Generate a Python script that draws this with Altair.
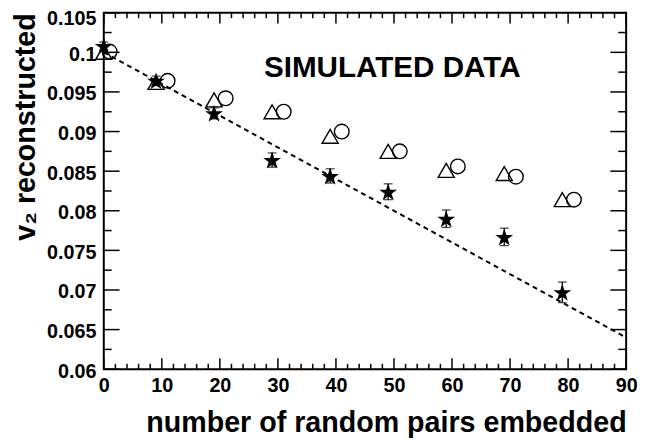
import altair as alt
import pandas as pd

# ---- data ----
star_x = [0, 9, 19, 29, 39, 49, 59, 69, 79]
star_y = [0.1008, 0.0964, 0.0923, 0.0864, 0.0844, 0.0824, 0.0790, 0.0767, 0.0697]
star_err = [0.0005, 0.0006, 0.0007, 0.0009, 0.0009, 0.0010, 0.0011, 0.0011, 0.0013]

tri_x = [0, 9, 19, 29, 39, 49, 59, 69, 79]
tri_y = [0.1000, 0.0962, 0.0940, 0.0925, 0.0894, 0.0875, 0.0851, 0.0847, 0.0814]

circ_x = [1, 11, 21, 31, 41, 51, 61, 71, 81]
circ_y = [0.1001, 0.0964, 0.0942, 0.0925, 0.0900, 0.0875, 0.0856, 0.0843, 0.0814]

line_x = [0, 90]
line_y = [0.100, 0.064]

label_x = [27.6]
label_y = [0.0969]
label_text = ["SIMULATED DATA"]

x_labels = [0, 10, 20, 30, 40, 50, 60, 70, 80, 90]
x_minor = [v for v in range(0, 91, 2) if v % 10 != 0]
y_labels = [round(0.06 + 0.005 * i, 4) for i in range(10)]
y_minor = [round(0.0625 + 0.005 * i, 5) for i in range(9)]

x_title = "number of random pairs embedded"
y_title = "v\u2082 reconstructed"

# ---- layout ----
W, H = 529, 361
FONT = "Liberation Sans"
xs = alt.Scale(domain=[0, 90], nice=False, zero=False)
ys = alt.Scale(domain=[0.06, 0.105], nice=False, zero=False)

STAR = ("M0,-0.905L0.225,-0.214L0.951,-0.214L0.363,0.213L0.588,0.904"
        "L0,0.477L-0.588,0.904L-0.363,0.213L-0.951,-0.214L-0.225,-0.214Z")

df_star = pd.DataFrame({"x": star_x, "y": star_y,
                        "lo": [a - b for a, b in zip(star_y, star_err)],
                        "hi": [a + b for a, b in zip(star_y, star_err)]})
df_tri = pd.DataFrame({"x": tri_x, "y": tri_y})
df_circ = pd.DataFrame({"x": circ_x, "y": circ_y})
df_line = pd.DataFrame({"x": line_x, "y": line_y})
df_lab = pd.DataFrame({"x": label_x, "y": label_y, "t": label_text})

x_axis = alt.Axis(values=x_labels, ticks=False, domain=False, grid=False,
                  labelFont=FONT, labelFontWeight="bold", labelFontSize=20,
                  labelColor="black", labelPadding=7, labelFlush=False,
                  title=x_title, titleFont=FONT, titleFontSize=29,
                  titleFontWeight="bold", titleColor="black",
                  titleAlign="right", titleX=W, titleY=63,
                  titleBaseline="alphabetic")
y_axis = alt.Axis(values=y_labels, ticks=False, domain=False, grid=False,
                  format=".3~f",
                  labelFont=FONT, labelFontWeight="bold", labelFontSize=20,
                  labelColor="black", labelPadding=8, labelFlush=False,
                  labelOffset={"condition": {"test": "datum.value > 0.104",
                                             "value": 5.5},
                               "value": 2},
                  title=y_title, titleFont=FONT, titleFontSize=29,
                  titleFontWeight="bold", titleColor="black",
                  titleAngle=270, titleAlign="right", titleX=-70, titleY=0,
                  titleBaseline="alphabetic")


def X(field):
    return alt.X(field, scale=xs, axis=x_axis)


def Y(field):
    return alt.Y(field, scale=ys, axis=y_axis)


line = alt.Chart(df_line).mark_line(color="black", strokeWidth=2,
                                     strokeDash=[5, 4]).encode(
    x=X("x:Q"), y=Y("y:Q"))

err = alt.Chart(df_star).mark_rule(color="black", strokeWidth=1.3).encode(
    x=X("x:Q"), y=Y("lo:Q"), y2="hi:Q")

cap_lo = alt.Chart(df_star).mark_tick(color="black", thickness=1.3, size=9,
                                       orient="horizontal").encode(
    x=X("x:Q"), y=Y("lo:Q"))
cap_hi = alt.Chart(df_star).mark_tick(color="black", thickness=1.3, size=9,
                                       orient="horizontal").encode(
    x=X("x:Q"), y=Y("hi:Q"))

tri = alt.Chart(df_tri).mark_point(shape="triangle-up", filled=False,
                                    color="black", size=265,
                                    strokeWidth=1.4, opacity=1).encode(
    x=X("x:Q"), y=Y("y:Q"))

circ = alt.Chart(df_circ).mark_point(shape="circle", filled=False,
                                      color="black", size=220,
                                      strokeWidth=1.4, opacity=1).encode(
    x=X("x:Q"), y=Y("y:Q"))

star = alt.Chart(df_star).mark_point(shape=STAR, filled=True, color="black",
                                      size=360, opacity=1).encode(
    x=X("x:Q"), y=Y("y:Q"))

text = alt.Chart(df_lab).mark_text(font=FONT, fontSize=30, fontWeight="bold",
                                    align="left", baseline="alphabetic",
                                    color="black").encode(
    x=X("x:Q"), y=Y("y:Q"), text="t:N")


def xticks(vals, length):
    d = pd.DataFrame({"x": vals})
    bot = alt.Chart(d).mark_rule(color="black", strokeWidth=1.5).encode(
        x=X("x:Q"), y=alt.value(H), y2=alt.value(H - length))
    top = alt.Chart(d).mark_rule(color="black", strokeWidth=1.5).encode(
        x=X("x:Q"), y=alt.value(0), y2=alt.value(length))
    return [bot, top]


def yticks(vals, length):
    d = pd.DataFrame({"y": vals})
    left = alt.Chart(d).mark_rule(color="black", strokeWidth=1.5).encode(
        y=Y("y:Q"), x=alt.value(0), x2=alt.value(length))
    right = alt.Chart(d).mark_rule(color="black", strokeWidth=1.5).encode(
        y=Y("y:Q"), x=alt.value(W), x2=alt.value(W - length))
    return [left, right]


tick_layers = (xticks(x_labels, 11) + xticks(x_minor, 5.5)
               + yticks(y_labels, 16) + yticks(y_minor, 8))

chart = alt.layer(line, *tick_layers, err, cap_lo, cap_hi, tri, circ, star,
                  text).properties(
    width=W, height=H,
    padding={"left": 97, "top": 2, "right": 11, "bottom": 76},
    autosize=alt.AutoSizeParams(type="none"),
    background="white",
).configure_view(stroke="black", strokeWidth=2)

chart.save("out.html", embed_options={"renderer": "svg", "actions": False})
